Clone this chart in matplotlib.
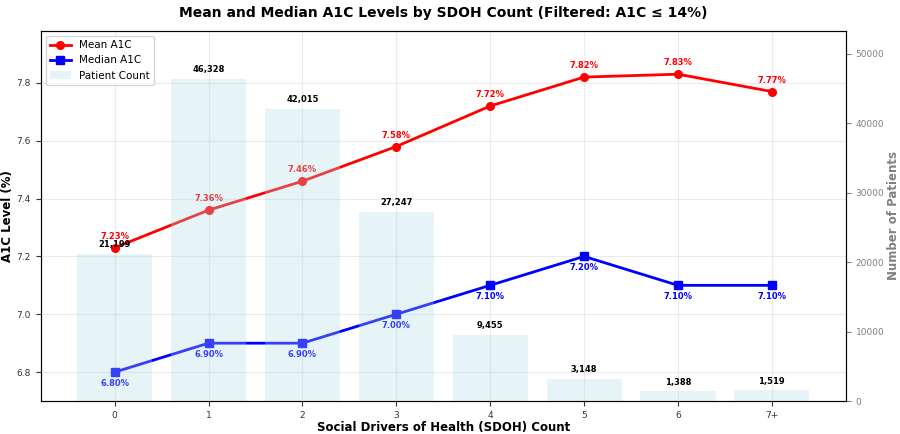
import matplotlib
matplotlib.use("Agg")
import matplotlib.pyplot as plt
import numpy as np

categories = ["0", "1", "2", "3", "4", "5", "6", "7+"]
mean_a1c = [7.23, 7.36, 7.46, 7.58, 7.72, 7.82, 7.83, 7.77]
median_a1c = [6.80, 6.90, 6.90, 7.00, 7.10, 7.20, 7.10, 7.10]
patient_counts = [21199, 46328, 42015, 27247, 9455, 3148, 1388, 1519]

x = np.arange(len(categories))

fig, ax = plt.subplots(figsize=(9, 4.34), dpi=100)
ax2 = ax.twinx()

l1, = ax.plot(x, mean_a1c, "o-", color="red", lw=2, ms=5.5, label="Mean A1C")
l2, = ax.plot(x, median_a1c, "s-", color="blue", lw=2, ms=5.5, label="Median A1C")
for i in range(len(x)):
    ax.annotate(f"{mean_a1c[i]:.2f}%", (x[i], mean_a1c[i]), xytext=(0, 5),
                textcoords="offset points", ha="center", va="bottom",
                color="red", fontsize=6, fontweight="bold")
    ax.annotate(f"{median_a1c[i]:.2f}%", (x[i], median_a1c[i]), xytext=(0, -5),
                textcoords="offset points", ha="center", va="top",
                color="blue", fontsize=6, fontweight="bold")

bars = ax2.bar(x, patient_counts, width=0.8, color="lightblue", alpha=0.3,
               label="Patient Count")
for b, c in zip(bars, patient_counts):
    ax2.text(b.get_x() + b.get_width() / 2, c + 700, f"{c:,}", ha="center",
             va="bottom", fontsize=6, fontweight="bold")

ax.set_ylim(min(median_a1c) - 0.1, max(mean_a1c) + 0.15)
ax2.set_ylim(0, max(patient_counts) * 1.15)
ax.set_xticks(x)
ax.set_xticklabels(categories)
ax.tick_params(labelsize=6.5, colors="#333333")
ax2.tick_params(labelsize=6.5, colors="gray")
ax.grid(True, alpha=0.25)
for s in ax.spines.values():
    s.set_color("#444444")

ax.set_xlabel("Social Drivers of Health (SDOH) Count", fontsize=8.5, fontweight="bold", labelpad=1)
ax.set_ylabel("A1C Level (%)", fontsize=8.5, fontweight="bold", labelpad=2)
ax2.set_ylabel("Number of Patients", fontsize=8.5, fontweight="bold", color="gray", labelpad=2)
ax.set_title("Mean and Median A1C Levels by SDOH Count (Filtered: A1C \u2264 14%)",
             fontsize=10, fontweight="bold", pad=10)

ax2.legend([l1, l2, bars], ["Mean A1C", "Median A1C", "Patient Count"],
           loc="upper left", fontsize=7.5)

plt.subplots_adjust(left=0.045, right=0.94, top=0.929, bottom=0.076)
plt.savefig("out.png", dpi=100)
